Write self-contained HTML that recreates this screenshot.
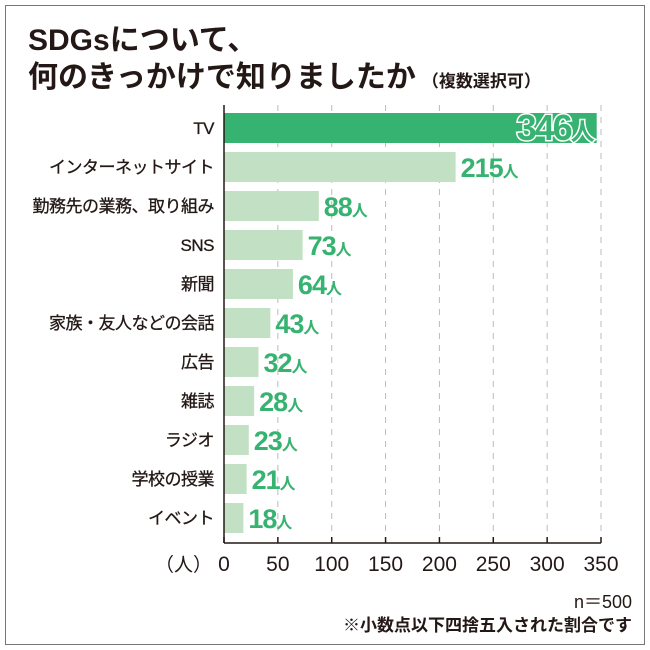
<!DOCTYPE html>
<html><head><meta charset="utf-8"><style>
body{margin:0;background:#fff;}
#wrap{position:relative;width:650px;height:650px;font-family:"Liberation Sans","Noto Sans CJK JP",sans-serif;}
#frame{position:absolute;left:5px;top:5px;width:638px;height:638px;border:1.5px solid #777;}
</style></head><body>
<div id="wrap">
<div id="frame"></div>
<svg id="svg" width="650" height="650" style="position:absolute;left:0;top:0">
<text x="28" y="50" font-size="30" font-weight="bold" fill="#231815">SDGsについて、</text>
<text x="28" y="87" font-size="30" font-weight="bold" fill="#231815">何のきっかけで知りましたか<tspan font-size="17" dx="6">（複数選択可）</tspan></text>
<g id="grid"></g><g id="bars"></g><g id="axis"></g>
<text x="632" y="608" font-size="18" fill="#231815" text-anchor="end">n＝500</text>
<text x="632" y="631" font-size="17" font-weight="bold" fill="#231815" text-anchor="end">※小数点以下四捨五入された割合です</text>
</svg>
</div>
<script>
const categories=["TV","インターネットサイト","勤務先の業務、取り組み","SNS","新聞","家族・友人などの会話","広告","雑誌","ラジオ","学校の授業","イベント"];
const values=[346,215,88,73,64,43,32,28,23,21,18];
const ticks=[0,50,100,150,200,250,300,350];
const NS="http://www.w3.org/2000/svg";
const x0=224,x1=601,maxV=350,top0=113,pitch=39,bh=30,axisY=543;
const xs=v=>x0+(v/maxV)*(x1-x0);
function mk(t,a,p){const e=document.createElementNS(NS,t);for(const k in a)e.setAttribute(k,a[k]);p.appendChild(e);return e;}
const grid=document.getElementById('grid'),bars=document.getElementById('bars'),axis=document.getElementById('axis');
ticks.forEach(t=>{if(t===0)return;
const g=mk('line',{x1:xs(t),x2:xs(t),y1:105,y2:axisY,stroke:'#bbb','stroke-width':1,'stroke-dasharray':'6,6'},grid);

});
categories.forEach((c,i)=>{
const y=top0+i*pitch;
const r=mk('rect',{x:x0,y:y,width:xs(values[i])-x0,height:bh,fill:i===0?'#36b371':'#c1e0c4'},bars);


const l=mk('text',{x:214,y:y+bh/2+6,'font-size':17,'text-anchor':'end',fill:'#231815',stroke:'#231815','stroke-width':0.3,'letter-spacing':'-0.5'},bars);
l.textContent=c;


let v;
if(i===0){v=mk('text',{x:xs(values[i])-4,y:y+bh/2+12,'font-size':36,'font-weight':'bold','text-anchor':'end',fill:'#36b371',stroke:'#fff','stroke-width':3,'paint-order':'stroke','letter-spacing':'-2'},bars);}
else{v=mk('text',{x:xs(values[i])+5,y:y+bh/2+10,'font-size':27,'font-weight':'bold',fill:'#36b371','letter-spacing':'-1'},bars);}
v.innerHTML=values[i]+'<tspan font-size="'+(i===0?24:16)+'">人</tspan>';


});
const yl=mk('line',{x1:x0,x2:x0,y1:105,y2:axisY,stroke:'#231815','stroke-width':1.5},axis);


const xl=mk('line',{x1:x0,x2:x1,y1:axisY,y2:axisY,stroke:'#231815','stroke-width':1.5},axis);


ticks.forEach(t=>{
const tk=mk('line',{x1:xs(t),x2:xs(t),y1:axisY-6,y2:axisY,stroke:'#231815','stroke-width':1.5},axis);


const tl=mk('text',{x:xs(t),y:571,'font-size':21,'text-anchor':'middle',fill:'#231815'},axis);
tl.textContent=t;


});
const u=mk('text',{x:212,y:571,'font-size':19,'text-anchor':'end',fill:'#231815'},axis);
u.textContent='（人）';


</script>
</body></html>
